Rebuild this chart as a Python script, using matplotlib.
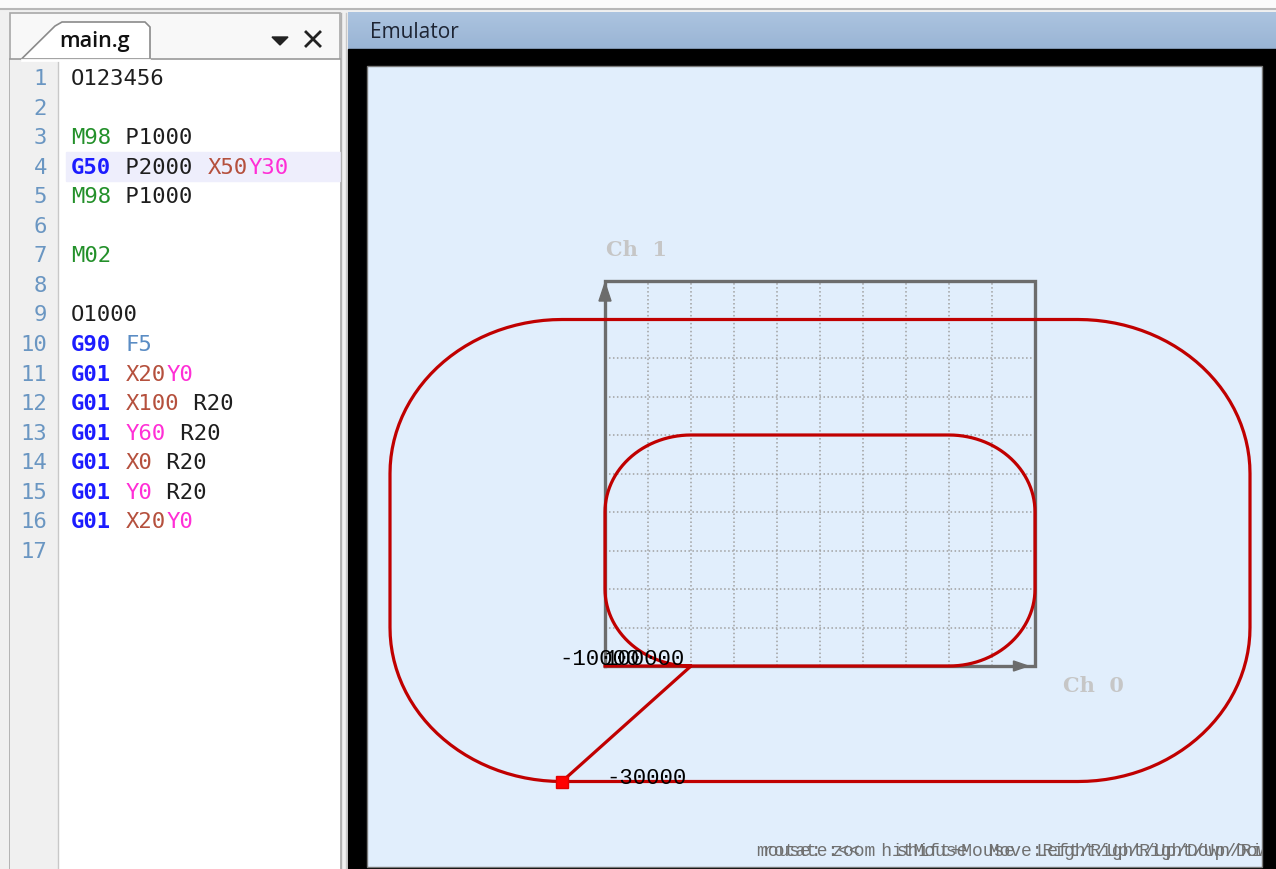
import numpy as np
import matplotlib.pyplot as plt
from matplotlib.patches import Rectangle, Polygon

# =========================
# 1. DATA
# =========================
# editor contents: one list of (text, colour key, bold) tokens per line
GREEN, BLUE, XCOL, YCOL, FCOL, DARK = "#23902a", "#1c1cff", "#b5503d", "#ff2fd6", "#5a8cc4", "#1e1e1e"
code_lines = [
    [("O123456", DARK, False)],
    [],
    [("M98", GREEN, False), (" P1000", DARK, False)],
    [("G50", BLUE, True), (" P2000 ", DARK, False), ("X50", XCOL, False), ("Y30", YCOL, False)],
    [("M98", GREEN, False), (" P1000", DARK, False)],
    [],
    [("M02", GREEN, False)],
    [],
    [("O1000", DARK, False)],
    [("G90", BLUE, True), (" ", DARK, False), ("F5", FCOL, False)],
    [("G01", BLUE, True), (" ", DARK, False), ("X20", XCOL, False), ("Y0", YCOL, False)],
    [("G01", BLUE, True), (" ", DARK, False), ("X100", XCOL, False), (" R20", DARK, False)],
    [("G01", BLUE, True), (" ", DARK, False), ("Y60", YCOL, False), (" R20", DARK, False)],
    [("G01", BLUE, True), (" ", DARK, False), ("X0", XCOL, False), (" R20", DARK, False)],
    [("G01", BLUE, True), (" ", DARK, False), ("Y0", YCOL, False), (" R20", DARK, False)],
    [("G01", BLUE, True), (" ", DARK, False), ("X20", XCOL, False), ("Y0", YCOL, False)],
    [],
]
highlight_line = 4

# subprogram O1000 moves (G01 targets and corner radius R)
sub_x = [20, 100, 100, 0, 0, 20]
sub_y = [0, 0, 60, 60, 0, 0]
sub_r = [0, 20, 20, 20, 20, 0]
start_xy = (0, 0)

# G50 P2000 X50Y30 -> scale 2 about (50, 30)
scale_p = 2.0
scale_center = (50, 30)

# emulator grid (Ch 0 / Ch 1 range and step)
grid_max = 100
grid_step = 10

axis_labels = ["Ch 0", "Ch 1"]
tick_texts = ["-10000", "100000", "-30000"]
help_texts = ["mouse: zoom  shift+Mouse  Left/Right/Up/Down/Right/Up",
              "rotate:<<  hitMouse  Move:Right/Up/Right/Up/Down/Up"]


def toolpath(start, xs, ys, rs):
    pts = [np.array(start, float)] + [np.array(p, float) for p in zip(xs, ys)]
    out = [pts[0]]
    for i in range(1, len(pts)):
        v = pts[i]
        r = rs[i - 1]
        if r > 0 and i + 1 < len(pts):
            u1 = (pts[i - 1] - v) / np.linalg.norm(pts[i - 1] - v)
            u2 = (pts[i + 1] - v) / np.linalg.norm(pts[i + 1] - v)
            t1, t2 = v + r * u1, v + r * u2
            c = v + r * u1 + r * u2
            a1 = np.arctan2(*(t1 - c)[::-1])
            a2 = np.arctan2(*(t2 - c)[::-1])
            da = (a2 - a1 + np.pi) % (2 * np.pi) - np.pi
            t = np.linspace(0, 1, 30)
            out.extend(np.column_stack([c[0] + r * np.cos(a1 + da * t),
                                        c[1] + r * np.sin(a1 + da * t)]))
        else:
            out.append(v)
    return np.array(out)


path1 = toolpath(start_xy, sub_x, sub_y, sub_r)
cen = np.array(scale_center, float)
path2 = cen + scale_p * (path1[1:] - cen)
full_path = np.vstack([path1, path2])
end_pt = path2[-1]

# =========================
# 2. FIGURE / UI CHROME (pixel coords)
# =========================
W, H = 1276, 870
fig = plt.figure(figsize=(W / 100, H / 100), dpi=100)
fig.patch.set_facecolor("#f0f0f0")
bg = fig.add_axes([0, 0, 1, 1])
bg.set_xlim(0, W)
bg.set_ylim(H, 0)
bg.axis("off")

bg.add_patch(Rectangle((0, 0), W, 9, color="#fbfbfb"))
bg.plot([0, W], [9.5, 9.5], color="#b8b8b8", lw=1.5)

# left panel
bg.add_patch(Rectangle((10, 14), 330, 860, facecolor="#f8f8f8", edgecolor="#a8a8a8", lw=1.2))
bg.add_patch(Rectangle((10, 60), 330, 812, facecolor="white", edgecolor="none"))
bg.add_patch(Rectangle((10, 60), 48, 812, facecolor="#f0f0f0", edgecolor="none"))
bg.plot([58, 58], [60, 870], color="#c8c8c8", lw=1)
bg.plot([10, 340], [60, 60], color="#9a9a9a", lw=1.2)
tab = Polygon([(21, 60.5), (55, 27), (62, 23), (145, 23), (150, 28), (150, 60.5)],
              closed=True, facecolor="white", edgecolor="#8a8a8a", lw=1.2)
bg.add_patch(tab)
bg.plot([22, 149], [60.5, 60.5], color="white", lw=2)
bg.text(59, 42, "main.g", fontsize=15.5, family="Open Sans", weight="semibold",
        color="#111111", va="center")
bg.add_patch(Polygon([(272, 38), (288, 38), (280, 46)], closed=True, color="#222222"))
bg.plot([306, 320], [33, 47], color="#222222", lw=2)
bg.plot([306, 320], [47, 33], color="#222222", lw=2)

# highlighted current line
line_y0, line_dy = 79, 29.56
hy = line_y0 + (highlight_line - 1) * line_dy
bg.add_patch(Rectangle((66, hy - 14.5), 274, 29, color="#eeeefc"))

char_w = 13.65
for i, toks in enumerate(code_lines):
    y = line_y0 + i * line_dy
    bg.text(47, y, str(i + 1), ha="right", va="center", fontsize=16,
            family="DejaVu Sans Mono", color="#6a96c2")
    col = 0
    for txt, c, bold in toks:
        bg.text(71 + col * char_w, y, txt, ha="left", va="center", fontsize=16,
                family="DejaVu Sans Mono", color=c, weight="bold" if bold else "normal")
        col += len(txt)

# emulator panel
bg.plot([341, 341], [14, 870], color="#b0b0b0", lw=1)
bg.plot([346, 346], [14, 870], color="#c8c8c8", lw=1)
c_top = np.array([0xab, 0xc3, 0xdf]) / 255
c_bot = np.array([0x99, 0xb4, 0xd4]) / 255
for k in range(37):
    f = k / 36
    bg.add_patch(Rectangle((348, 13 + k), W - 348, 1.05, color=c_top * (1 - f) + c_bot * f, lw=0))
bg.text(370, 33, "Emulator", fontsize=15, family="Open Sans", color="#1d2433", va="center")
bg.add_patch(Rectangle((348, 50), W - 348, H - 50, color="black"))
bg.add_patch(Rectangle((367, 67), 1262 - 367, 801, facecolor="#e1eefc", edgecolor="#7a7a7a", lw=1))

# =========================
# 3. EMULATOR PLOT (data coords)
# =========================
X0PX, Y0PX, SX, SY = 605, 667, 4.30, 3.85
L, R, T, B = 367, 1262, 67, 868
ax = fig.add_axes([L / W, 1 - B / H, (R - L) / W, (B - T) / H])
ax.set_xlim((L - X0PX) / SX, (R - X0PX) / SX)
ax.set_ylim((Y0PX - B) / SY, (Y0PX - T) / SY)
ax.patch.set_alpha(0)
ax.axis("off")

grid_vals = np.arange(grid_step, grid_max, grid_step)
for g in grid_vals:
    ax.plot([g, g], [0, grid_max], color="#a0a0a0", lw=1.1, ls=(0, (1, 1.6)))
    ax.plot([0, grid_max], [g, g], color="#a0a0a0", lw=1.1, ls=(0, (1, 1.6)))

box_c = "#6c6c6c"
ax.plot([0, 0, grid_max, grid_max, 0], [0, grid_max, grid_max, 0, 0], color=box_c, lw=2.4,
        solid_joinstyle="miter")
ax.add_patch(Polygon([(0, grid_max - 0.5), (-1.4, grid_max - 5.2), (1.4, grid_max - 5.2)],
                     closed=True, color=box_c))
ax.add_patch(Polygon([(grid_max - 1.6, 0), (grid_max - 5.0, 1.3), (grid_max - 5.0, -1.3)],
                     closed=True, color=box_c))

ax.plot(full_path[:, 0], full_path[:, 1], color="#c00000", lw=2.3)
ax.plot([end_pt[0]], [end_pt[1]], marker="s", ms=9, color="#ff0000", mec="#e00000")

lab_kw = dict(family="DejaVu Serif", weight="bold", fontsize=15, color="#c6c6c6",
              transform=bg.transData, va="center")
ax.text(606, 250, axis_labels[1].replace(" ", "  "), **lab_kw)
ax.text(1063, 686, axis_labels[0].replace(" ", "  "), **lab_kw)

num_kw = dict(family="Liberation Mono", fontsize=16, color="black",
              transform=bg.transData, va="center")
ax.text(559, 660, tick_texts[0], **num_kw)
ax.text(604, 660, tick_texts[1], **num_kw)
ax.text(606, 779, tick_texts[2], **num_kw)

for s, dx in zip(help_texts, [0, 6]):
    ax.text(757 + dx, 852, s, family="Liberation Mono", fontsize=13, color="#707070",
            transform=bg.transData, va="center", clip_on=True)

fig.savefig("out.png", dpi=100, facecolor=fig.get_facecolor())
